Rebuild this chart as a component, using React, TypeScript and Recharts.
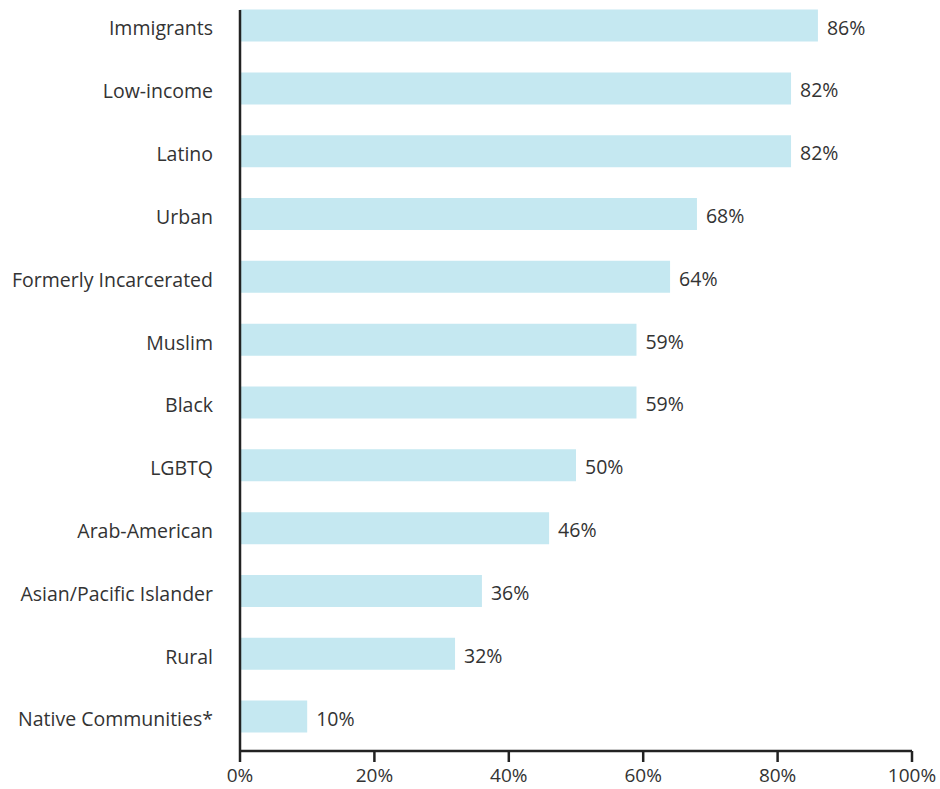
import React from 'react';
import { BarChart, Bar, XAxis, YAxis, LabelList } from 'recharts';

const categories = [
  'Immigrants',
  'Low-income',
  'Latino',
  'Urban',
  'Formerly Incarcerated',
  'Muslim',
  'Black',
  'LGBTQ',
  'Arab-American',
  'Asian/Pacific Islander',
  'Rural',
  'Native Communities*',
];
const values = [86, 82, 82, 68, 64, 59, 59, 50, 46, 36, 32, 10];
const xTicks = [0, 20, 40, 60, 80, 100];

const data = categories.map((name, i) => ({ name, value: values[i] }));

const FONT = '"Open Sans", Lato, sans-serif';
const FS = 19.5;
const TEXT = '#333333';
const AXIS = '#222222';

export default function App() {
  return (
    <div style={{ position: 'absolute', left: 0, top: 0, width: 940, height: 789, background: '#fff' }}>
      <BarChart
        width={940}
        height={789}
        data={data}
        layout="vertical"
        margin={{ top: 10, right: 28, bottom: 8, left: 10 }}
        barSize={32}
      >
        <XAxis
          type="number"
          domain={[0, 100]}
          ticks={xTicks}
          tickFormatter={(v: number) => `${v}%`}
          axisLine={{ stroke: AXIS, strokeWidth: 2.5 }}
          tickLine={{ stroke: AXIS, strokeWidth: 2.5 }}
          tickSize={11}
          tickMargin={7}
          height={30}
          tick={{ fill: TEXT, fontSize: 19, fontFamily: FONT }}
          interval={0}
        />
        <YAxis
          type="category"
          dataKey="name"
          width={230}
          axisLine={{ stroke: AXIS, strokeWidth: 2.5 }}
          tickLine={false}
          tickSize={0}
          tickMargin={27}
          padding={{ top: -15.4, bottom: 2.6 }}
          tick={{ fill: TEXT, fontSize: FS, fontFamily: FONT, dy: 2.5 }}
          interval={0}
        />
        <Bar dataKey="value" fill="#c5e8f1" isAnimationActive={false}>
          <LabelList
            dataKey="value"
            position="right"
            offset={9}
            dy={2}
            formatter={(v: number) => `${v}%`}
            style={{ fill: TEXT, fontSize: FS, fontFamily: FONT }}
          />
        </Bar>
      </BarChart>
    </div>
  );
}
